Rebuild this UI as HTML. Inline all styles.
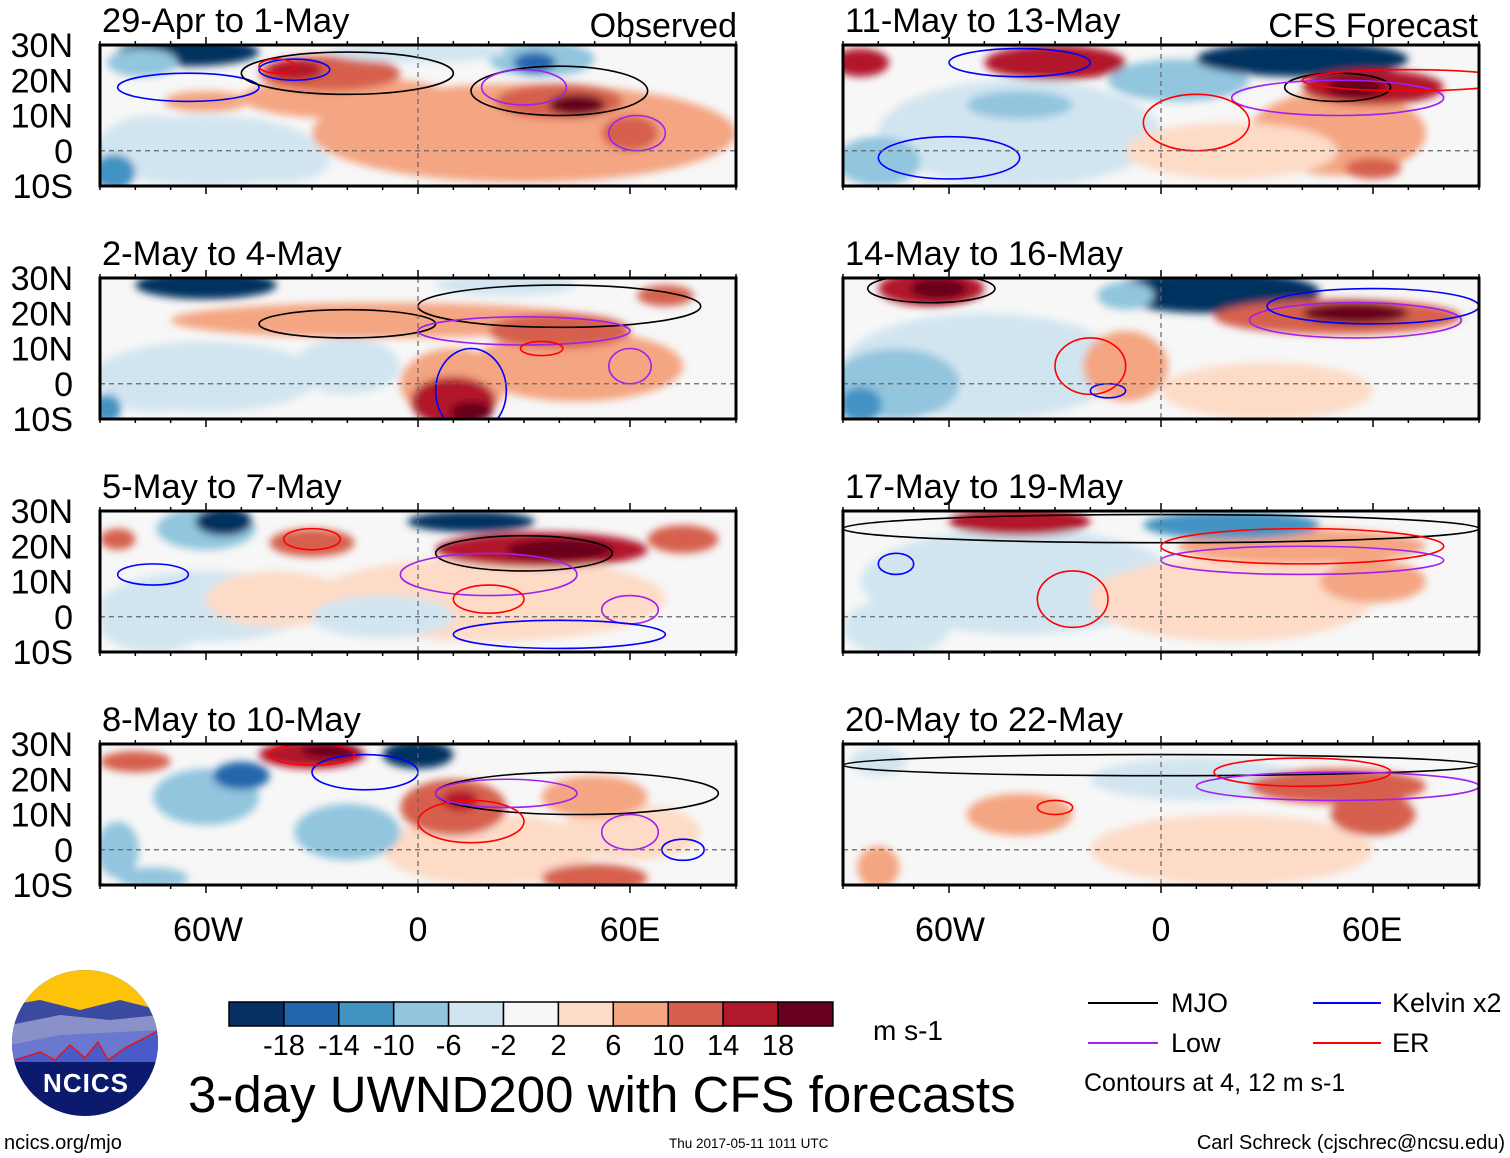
<!DOCTYPE html>
<html><head><meta charset="utf-8">
<style>
html,body{margin:0;padding:0;background:#fff;}
svg{display:block;font-family:"Liberation Sans",Arial,sans-serif;}
</style></head>
<body>
<svg id="fig" width="1510" height="1158" viewBox="0 0 1510 1158" xmlns="http://www.w3.org/2000/svg">
<defs>
<filter id="blur" x="-20%" y="-20%" width="140%" height="140%"><feGaussianBlur stdDeviation="4"/></filter>
</defs>
<g id="panels"></g>

<g font-size="34" text-anchor="middle">
<text x="208" y="941">60W</text><text x="418" y="941">0</text><text x="630" y="941">60E</text>
</g>
<g font-size="34" text-anchor="middle">
<text x="950" y="941">60W</text><text x="1161" y="941">0</text><text x="1372" y="941">60E</text>
</g>
<text x="737" y="37" font-size="34" text-anchor="end">Observed</text>
<text x="1478" y="37" font-size="34" text-anchor="end">CFS Forecast</text>

<g>
<clipPath id="lc"><circle cx="85" cy="1043" r="73"/></clipPath>
<g clip-path="url(#lc)">
<rect x="10" y="968" width="150" height="150" fill="#0c1a6e"/>
<rect x="10" y="968" width="150" height="50" fill="#fcc30a"/>
<path d="M10 1005 L40 1000 L80 1010 L120 1000 L160 1010 L160 1030 L10 1040Z" fill="#3a4aa0"/>
<path d="M10 1025 L60 1015 L110 1020 L160 1015 L160 1040 L10 1060Z" fill="#8a90c8"/>
<path d="M10 1045 L60 1035 L160 1030 L160 1055 L10 1070Z" fill="#6a78d0"/>
<path d="M10 1060 L40 1052 L55 1060 L70 1045 L85 1058 L98 1042 L108 1060 L125 1048 L160 1030 L160 1080 L10 1080Z" fill="#4a5ac8"/>
<path d="M10 1062 L40 1052 L55 1060 L70 1045 L85 1058 L98 1042 L108 1060 L125 1048 L160 1030" fill="none" stroke="#e01818" stroke-width="1.5"/>
<rect x="10" y="1062" width="150" height="60" fill="#0c1a6e"/>
</g>
<text x="86" y="1092" font-size="26" font-weight="bold" fill="#fff" text-anchor="middle" letter-spacing="1">NCICS</text>
</g>
<text x="4" y="1149" font-size="20">ncics.org/mjo</text>

<g id="cbar"></g>
<text x="873" y="1040" font-size="28">m s-1</text>
<text x="188" y="1112" font-size="51">3-day UWND200 with CFS forecasts</text>
<text x="669" y="1148" font-size="13.5">Thu 2017-05-11 1011 UTC</text>
<text x="1505" y="1149" font-size="20" text-anchor="end">Carl Schreck (cjschrec@ncsu.edu)</text>

<g font-size="27">
<g><line x1="1088" y1="1003" x2="1158" y2="1003" stroke="#000" stroke-width="2"/><text x="1171" y="1012">MJO</text></g>
<g><line x1="1313" y1="1003" x2="1381" y2="1003" stroke="#0000ff" stroke-width="2"/><text x="1392" y="1012">Kelvin x2</text></g>
<g><line x1="1088" y1="1043" x2="1158" y2="1043" stroke="#a020f0" stroke-width="2"/><text x="1171" y="1052">Low</text></g>
<g><line x1="1313" y1="1043" x2="1381" y2="1043" stroke="#ff0000" stroke-width="2"/><text x="1392" y="1052">ER</text></g>
<text x="1084" y="1091" font-size="25">Contours at 4, 12 m s-1</text>
</g>
</svg>
<script>
const levels = [-18,-14,-10,-6,-2,2,6,10,14,18];
const colors = ["#053061","#2166ac","#4393c3","#92c5de","#d1e5f0","#f7f7f7","#fddbc7","#f4a582","#d6604d","#b2182b","#67001f"];
const titles = ["29-Apr to 1-May","2-May to 4-May","5-May to 7-May","8-May to 10-May","11-May to 13-May","14-May to 16-May","17-May to 19-May","20-May to 22-May"];
// wind anomaly blobs: [lon, lat, lonRadius, latRadius, value]
const blobs0 = [[-60,0,32,10,-4],[-75,2,15,8,-6],[-86,-6,6,5,-12],[-40,-3,15,6,-4],[30,5,60,14,6],[-20,15,30,6,6],[-60,14,12,3,8],[-25,22,20,5,10],[-35,23,8,3,15],[40,14,18,5,12],[45,13,8,3,18],[60,5,8,5,10],[-65,28,20,4,-18],[-78,25,10,4,-10],[35,26,15,5,-10],[33,25,6,3,-16],[0,28,25,3,-4]];
const blobs1 = [[-60,2,32,10,-4],[-75,0,15,8,-6],[-88,-7,4,4,-12],[-20,5,15,8,-4],[45,5,30,10,6],[-10,18,60,5,8],[40,15,20,5,10],[10,0,15,10,8],[10,-5,12,7,14],[15,-8,6,3,19],[70,25,8,3,12],[-60,28,20,4,-18],[25,28,20,3,-6]];
const blobs2 = [[-60,3,30,10,-3],[20,5,50,12,4],[-40,5,20,8,4],[-75,-2,15,8,-6],[-10,0,20,6,-3],[-60,25,14,6,-10],[-55,27,8,4,-18],[15,27,18,3,-18],[-85,22,5,3,12],[-30,21,12,4,10],[35,19,30,5,14],[40,19,15,3,19],[75,22,10,4,10]];
const blobs3 = [[20,0,30,10,4],[60,5,20,8,5],[-60,15,15,8,-8],[-20,5,15,8,-8],[10,12,15,8,10],[12,14,5,3,15],[50,15,15,6,8],[-85,0,6,8,-10],[-75,-8,10,3,-10],[50,-8,15,4,12],[-30,27,15,4,16],[-25,28,8,2,19],[-80,25,10,3,10],[0,27,10,4,-18],[-50,21,8,4,-16]];
const blobs4 = [[-40,5,40,15,-4],[50,5,25,12,8],[20,0,30,8,4],[-50,5,15,5,-4],[-80,-3,12,7,-10],[-40,13,15,4,-8],[5,20,20,6,-8],[40,26,30,5,-18],[-30,25,20,5,14],[-85,25,8,4,16],[60,18,20,5,14],[55,18,8,3,19],[60,-5,8,3,12]];
const blobs5 = [[-50,5,40,15,-4],[30,-2,30,8,4],[-40,5,15,6,-4],[-75,0,18,10,-8],[-85,-6,6,5,-12],[-10,5,12,10,8],[-65,27,15,5,16],[-63,27,8,3,19],[15,26,30,6,-18],[-10,25,8,4,-10],[50,19,35,5,12],[55,20,15,3,19]];
const blobs6 = [[-40,10,45,15,-3],[20,5,40,12,4],[-40,15,30,6,-4],[-75,-3,15,8,-4],[60,10,15,6,8],[40,20,35,5,8],[-40,27,20,4,14],[20,26,25,4,-12]];
const blobs7 = [[20,0,40,10,3],[10,20,30,6,-4],[-80,25,8,4,-4],[-40,10,15,6,6],[-80,-5,6,6,8],[50,18,25,5,10],[60,10,12,6,12]];
const blobSets = [blobs0,blobs1,blobs2,blobs3,blobs4,blobs5,blobs6,blobs7];
// contours: [lon, lat, lonRadius, latRadius, type]
const contours0 = [[-35,23,10,3,"kelvin"],[-65,18,20,4,"kelvin"],[-20,22,30,6,"mjo"],[40,17,25,7,"mjo"],[30,18,12,5,"low"],[62,5,8,5,"low"],[-40,24,5,2,"er"]];
const contours1 = [[-20,17,25,4,"mjo"],[40,22,40,6,"mjo"],[15,-2,10,12,"kelvin"],[30,15,30,4,"low"],[60,5,6,5,"low"],[35,10,6,2,"er"]];
const contours2 = [[30,18,25,5,"mjo"],[-30,22,8,3,"er"],[-75,12,10,3,"kelvin"],[60,2,8,4,"low"],[20,12,25,6,"low"],[20,5,10,4,"er"],[40,-5,30,4,"kelvin"]];
const contours3 = [[45,16,40,6,"mjo"],[-15,22,15,5,"kelvin"],[-30,27,12,3,"er"],[15,8,15,6,"er"],[25,16,20,4,"low"],[60,5,8,5,"low"],[75,0,6,3,"kelvin"]];
const contours4 = [[50,18,15,4,"mjo"],[50,15,30,5,"low"],[10,8,15,8,"er"],[-40,25,20,4,"kelvin"],[-60,-2,20,6,"kelvin"],[70,20,30,3,"er"]];
const contours5 = [[-65,27,18,4,"mjo"],[55,18,30,5,"low"],[60,22,30,5,"kelvin"],[-20,5,10,8,"er"],[-15,-2,5,2,"kelvin"]];
const contours6 = [[0,25,90,4,"mjo"],[40,20,40,5,"er"],[40,16,40,4,"low"],[-25,5,10,8,"er"],[-75,15,5,3,"kelvin"]];
const contours7 = [[0,24,90,3,"mjo"],[40,22,25,4,"er"],[50,18,40,4,"low"],[-30,12,5,2,"er"]];
const contourSets = [contours0,contours1,contours2,contours3,contours4,contours5,contours6,contours7];
const contourColors = {mjo:"#000",kelvin:"#0000ff",low:"#a020f0",er:"#ff0000"};

const NS="http://www.w3.org/2000/svg";
function mk(tag,attrs,parent){const e=document.createElementNS(NS,tag);for(const k in attrs)e.setAttribute(k,attrs[k]);parent.appendChild(e);return e;}
function colorOf(v){let i=0;while(i<levels.length&&v>=levels[i])i++; if(v<=levels[0])i=0; return colors[i];}

const W=636, H=141;
const origins=[[100,45],[100,278],[100,511],[100,744],[843,45],[843,278],[843,511],[843,744]];
const root=document.getElementById('panels');
origins.forEach((o,p)=>{
  const [x0,y0]=o;
  const xs=lon=>x0+(lon+90)/180*W;
  const ys=lat=>y0+(30-lat)/40*H;
  const g=mk('g',{},root);
  
  
  const cid='clip'+p;
  const cp=mk('clipPath',{id:cid},g); mk('rect',{x:x0,y:y0,width:W,height:H},cp);
  const inner=mk('g',{'clip-path':`url(#${cid})`},g);
  mk('rect',{x:x0,y:y0,width:W,height:H,fill:'#f7f7f7'},inner);
  const bg=mk('g',{filter:'url(#blur)'},inner);
  blobSets[p].forEach(b=>{
    const e=mk('ellipse',{cx:xs(b[0]),cy:ys(b[1]),rx:b[2]/180*W,ry:b[3]/40*H,fill:colorOf(b[4])},bg);
    
    
  });
  contourSets[p].forEach(c=>{
    const e=mk('ellipse',{cx:xs(c[0]),cy:ys(c[1]),rx:c[2]/180*W,ry:c[3]/40*H,fill:'none',stroke:contourColors[c[4]],'stroke-width':1.6},inner);
    
    
  });
  mk('line',{x1:x0,y1:ys(0),x2:x0+W,y2:ys(0),stroke:'#666','stroke-dasharray':'5,4','stroke-width':1.2},inner);
  mk('line',{x1:xs(0),y1:y0,x2:xs(0),y2:y0+H,stroke:'#666','stroke-dasharray':'5,4','stroke-width':1.2},inner);
  mk('rect',{x:x0,y:y0,width:W,height:H,fill:'none',stroke:'#000','stroke-width':3},g);
  for(let lon=-90;lon<=90;lon+=10){const L=(lon%60===0)?8:4;
    mk('line',{x1:xs(lon),y1:y0-L,x2:xs(lon),y2:y0,stroke:'#000','stroke-width':1.5},g);
    mk('line',{x1:xs(lon),y1:y0+H,x2:xs(lon),y2:y0+H+L,stroke:'#000','stroke-width':1.5},g);}
  const t=mk('text',{x:x0+2,y:y0-13,'font-size':34.5},g); t.textContent=titles[p];
   
  if(p<4){
    ["30N","20N","10N","0","10S"].forEach((lab,i)=>{
      const tt=mk('text',{x:73,y:ys(30-10*i)+12,'font-size':34,'text-anchor':'end'},g); tt.textContent=lab;
       
    });
  }
});
const cb=document.getElementById('cbar');
const bx0=229,bw=54.9;
colors.forEach((c,i)=>{const r=mk('rect',{x:bx0+i*bw,y:1002,width:bw,height:24,fill:c,stroke:'#000','stroke-width':1.5},cb);
   });
levels.forEach((l,i)=>{const t=mk('text',{x:bx0+(i+1)*bw,y:1055,'font-size':29,'text-anchor':'middle'},cb);t.textContent=l;
   });
</script>
</body></html>
